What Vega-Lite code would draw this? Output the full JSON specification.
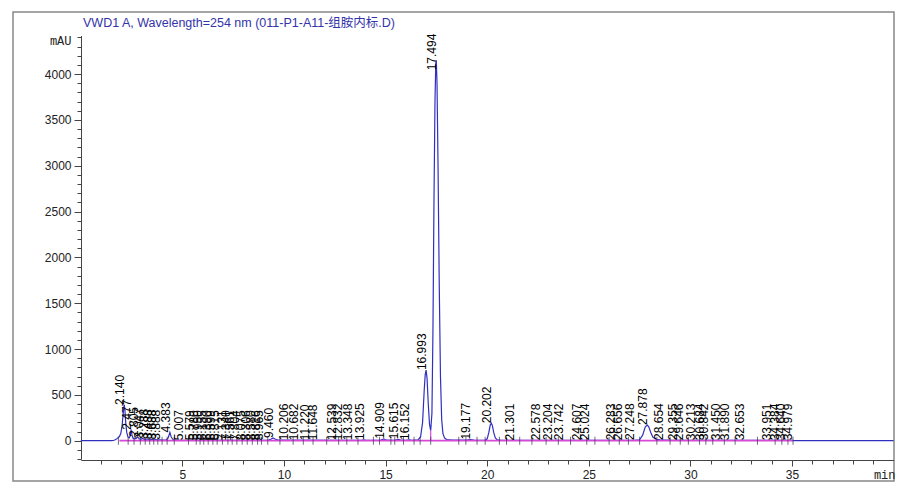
{
  "$schema": "https://vega.github.io/schema/vega-lite/v6.json",
  "autosize": {"type": "none"},
  "padding": {"left": 13, "top": 12, "right": 6, "bottom": 15},
  "width": 881,
  "height": 469,
  "background": "white",
  "view": {"stroke": "#888888", "strokeWidth": 1.5},
  "title": {
    "text": "VWD1 A, Wavelength=254 nm (011-P1-A11-组胺内标.D)",
    "anchor": "start",
    "frame": "group",
    "dx": 70,
    "dy": 21,
    "font": "Liberation Sans, Noto Sans CJK SC",
    "fontSize": 12.5,
    "fontWeight": "normal",
    "color": "#3333aa"
  },
  "resolve": {"axis": {"x": "independent", "y": "independent"}},
  "datasets": {
    "trace": [
      {"t":0,"v":0},{"t":1.5,"v":0},{"t":1.6,"v":2},{"t":1.7,"v":10},{"t":1.8,"v":25},{"t":1.9,"v":45},{"t":1.97,"v":80},{"t":2.03,"v":160},{"t":2.08,"v":280},{"t":2.12,"v":370},{"t":2.14,"v":390},{"t":2.17,"v":340},{"t":2.21,"v":200},{"t":2.26,"v":90},{"t":2.32,"v":40},{"t":2.38,"v":30},{"t":2.43,"v":50},{"t":2.477,"v":120},{"t":2.52,"v":60},{"t":2.57,"v":25},{"t":2.65,"v":20},{"t":2.72,"v":25},{"t":2.805,"v":40},{"t":2.87,"v":20},{"t":2.95,"v":15},{"t":3.047,"v":25},{"t":3.15,"v":12},{"t":3.288,"v":20},{"t":3.38,"v":10},{"t":3.488,"v":15},{"t":3.58,"v":8},{"t":3.688,"v":12},{"t":3.78,"v":6},{"t":3.888,"v":10},{"t":4.0,"v":5},{"t":4.2,"v":5},{"t":4.3,"v":30},{"t":4.383,"v":90},{"t":4.45,"v":40},{"t":4.55,"v":10},{"t":4.7,"v":4},{"t":9.2,"v":3},{"t":9.35,"v":15},{"t":9.46,"v":30},{"t":9.58,"v":15},{"t":9.75,"v":5},{"t":13.8,"v":3},{"t":13.925,"v":8},{"t":14.05,"v":3},{"t":14.75,"v":4},{"t":14.909,"v":20},{"t":15.05,"v":5},{"t":15.45,"v":4},{"t":15.615,"v":15},{"t":15.78,"v":5},{"t":16.0,"v":4},{"t":16.152,"v":8},{"t":16.3,"v":4},{"t":16.6,"v":10},{"t":16.72,"v":40},{"t":16.82,"v":200},{"t":16.9,"v":550},{"t":16.95,"v":720},{"t":16.993,"v":770},{"t":17.04,"v":680},{"t":17.1,"v":400},{"t":17.16,"v":180},{"t":17.22,"v":110},{"t":17.28,"v":300},{"t":17.33,"v":1200},{"t":17.38,"v":2600},{"t":17.43,"v":3700},{"t":17.47,"v":4120},{"t":17.494,"v":4150},{"t":17.53,"v":3900},{"t":17.58,"v":3000},{"t":17.64,"v":1700},{"t":17.7,"v":700},{"t":17.76,"v":230},{"t":17.82,"v":80},{"t":17.9,"v":30},{"t":18.0,"v":12},{"t":18.3,"v":6},{"t":19.0,"v":5},{"t":19.177,"v":12},{"t":19.35,"v":5},{"t":19.9,"v":4},{"t":20.0,"v":20},{"t":20.08,"v":90},{"t":20.15,"v":170},{"t":20.202,"v":190},{"t":20.25,"v":170},{"t":20.32,"v":90},{"t":20.4,"v":30},{"t":20.5,"v":8},{"t":20.7,"v":4},{"t":27.3,"v":5},{"t":27.5,"v":10},{"t":27.65,"v":60},{"t":27.78,"v":150},{"t":27.878,"v":170},{"t":27.95,"v":150},{"t":28.05,"v":90},{"t":28.15,"v":40},{"t":28.3,"v":15},{"t":28.5,"v":8},{"t":29.0,"v":5},{"t":35.0,"v":3},{"t":35.1,"v":0},{"t":40,"v":0}
    ],
    "base": [{"t":1.9,"v":0},{"t":35.05,"v":0}],
    "drop": [{"t":17.22,"v":0,"v2":110}],
    "bounds": [
      {"t":1.85},{"t":2.33},{"t":2.62},{"t":2.93},{"t":3.17},{"t":3.39},{"t":3.59},{"t":3.79},{"t":4.0},{"t":4.25},{"t":4.6},{"t":5.3},{"t":5.68},{"t":5.87},{"t":6.05},{"t":6.27},{"t":6.5},{"t":6.71},{"t":6.97},{"t":7.24},{"t":7.45},{"t":7.68},{"t":7.94},{"t":8.19},{"t":8.44},{"t":8.7},{"t":8.89},{"t":9.2},{"t":9.8},{"t":10.45},{"t":10.95},{"t":11.43},{"t":12.1},{"t":12.69},{"t":13.09},{"t":13.64},{"t":14.4},{"t":14.7},{"t":15.26},{"t":15.45},{"t":15.88},{"t":16.4},{"t":16.7},{"t":17.22},{"t":18.6},{"t":18.95},{"t":19.5},{"t":19.9},{"t":20.6},{"t":20.95},{"t":21.6},{"t":22.2},{"t":22.9},{"t":23.5},{"t":24.1},{"t":24.9},{"t":25.3},{"t":26.0},{"t":26.5},{"t":26.95},{"t":27.5},{"t":28.35},{"t":29.0},{"t":29.5},{"t":29.9},{"t":30.45},{"t":30.76},{"t":31.1},{"t":31.67},{"t":32.2},{"t":33.3},{"t":34.17},{"t":34.5},{"t":34.8},{"t":35.05}
    ],
    "peaks": [
      {"t":2.140,"v":390,"rt":"2.140"},{"t":2.477,"v":120,"rt":"2.477"},{"t":2.805,"v":40,"rt":"2.805"},{"t":3.047,"v":25,"rt":"3.047"},{"t":3.288,"v":20,"rt":"3.288"},{"t":3.488,"v":15,"rt":"3.488"},{"t":3.688,"v":12,"rt":"3.688"},{"t":3.888,"v":10,"rt":"3.888"},{"t":4.383,"v":90,"rt":"4.383"},{"t":5.007,"v":5,"rt":"5.007"},{"t":5.579,"v":4,"rt":"5.579"},{"t":5.780,"v":4,"rt":"5.780"},{"t":5.950,"v":4,"rt":"5.950"},{"t":6.155,"v":4,"rt":"6.155"},{"t":6.390,"v":4,"rt":"6.390"},{"t":6.599,"v":4,"rt":"6.599"},{"t":6.815,"v":4,"rt":"6.815"},{"t":7.131,"v":4,"rt":"7.131"},{"t":7.340,"v":4,"rt":"7.340"},{"t":7.561,"v":4,"rt":"7.561"},{"t":7.804,"v":4,"rt":"7.804"},{"t":8.075,"v":4,"rt":"8.075"},{"t":8.306,"v":4,"rt":"8.306"},{"t":8.580,"v":4,"rt":"8.580"},{"t":8.816,"v":4,"rt":"8.816"},{"t":8.965,"v":4,"rt":"8.965"},{"t":9.460,"v":30,"rt":"9.460"},{"t":10.206,"v":4,"rt":"10.206"},{"t":10.682,"v":4,"rt":"10.682"},{"t":11.220,"v":4,"rt":"11.220"},{"t":11.648,"v":4,"rt":"11.648"},{"t":12.539,"v":4,"rt":"12.539"},{"t":12.832,"v":4,"rt":"12.832"},{"t":13.348,"v":4,"rt":"13.348"},{"t":13.925,"v":8,"rt":"13.925"},{"t":14.909,"v":20,"rt":"14.909"},{"t":15.615,"v":15,"rt":"15.615"},{"t":16.152,"v":8,"rt":"16.152"},{"t":16.993,"v":770,"rt":"16.993"},{"t":17.494,"v":4040,"rt":"17.494"},{"t":19.177,"v":12,"rt":"19.177"},{"t":20.202,"v":190,"rt":"20.202"},{"t":21.301,"v":3,"rt":"21.301"},{"t":22.578,"v":4,"rt":"22.578"},{"t":23.204,"v":4,"rt":"23.204"},{"t":23.742,"v":4,"rt":"23.742"},{"t":24.607,"v":4,"rt":"24.607"},{"t":25.024,"v":4,"rt":"25.024"},{"t":26.283,"v":4,"rt":"26.283"},{"t":26.656,"v":4,"rt":"26.656"},{"t":27.248,"v":6,"rt":"27.248"},{"t":27.878,"v":170,"rt":"27.878"},{"t":28.654,"v":8,"rt":"28.654"},{"t":29.355,"v":5,"rt":"29.355"},{"t":29.646,"v":5,"rt":"29.646"},{"t":30.213,"v":5,"rt":"30.213"},{"t":30.684,"v":5,"rt":"30.684"},{"t":30.842,"v":5,"rt":"30.842"},{"t":31.450,"v":5,"rt":"31.450"},{"t":31.890,"v":5,"rt":"31.890"},{"t":32.653,"v":4,"rt":"32.653"},{"t":33.951,"v":4,"rt":"33.951"},{"t":34.384,"v":4,"rt":"34.384"},{"t":34.640,"v":4,"rt":"34.640"},{"t":34.979,"v":4,"rt":"34.979"}
    ]
  },
  "layer": [
    {
      "data": {"name": "trace"},
      "mark": {"type": "line", "color": "#3030c0", "strokeWidth": 1.2, "interpolate": "linear"},
      "encoding": {
        "x": {
          "field": "t", "type": "quantitative",
          "scale": {"domain": [0, 40], "range": [67.8, 880.6], "zero": false, "nice": false},
          "axis": {
            "orient": "bottom",
            "title": "min", "titleAngle": 0, "titleAlign": "right", "titleBaseline": "middle",
            "titleX": 882, "titleY": 14, "titleFont": "Liberation Mono", "titleFontSize": 12, "titleFontWeight": "normal", "titleColor": "#222",
            "offset": -21, "grid": false,
            "values": [5,10,15,20,25,30,35],
            "format": "d", "tickSize": 6,
            "labelPadding": 3, "labelFont": "Liberation Sans", "labelFontSize": 12, "labelColor": "#222",
            "domainColor": "#444", "tickColor": "#444", "labelFlush": false, "labelOverlap": false
          }
        },
        "y": {
          "field": "v", "type": "quantitative",
          "scale": {"domain": [-200, 4420], "range": [447.0, 23.5], "zero": false, "nice": false},
          "axis": {
            "orient": "left",
            "title": "mAU", "titleAngle": 0, "titleAlign": "right", "titleBaseline": "middle",
            "titleX": -10, "titleY": 28, "titleFont": "Liberation Mono", "titleFontSize": 12, "titleFontWeight": "normal", "titleColor": "#222",
            "offset": -68, "grid": false,
            "values": [0,500,1000,1500,2000,2500,3000,3500,4000],
            "format": "d", "tickSize": 7,
            "labelPadding": 3, "labelFont": "Liberation Sans", "labelFontSize": 12, "labelColor": "#222",
            "domainColor": "#444", "tickColor": "#444", "labelFlush": false, "labelOverlap": false
          }
        }
      }
    },
    {
      "data": {"name": "base"},
      "mark": {"type": "line", "color": "#d848d8", "strokeWidth": 1.8},
      "encoding": {
        "x": {
          "field": "t", "type": "quantitative",
          "scale": {"domain": [0, 40], "range": [67.8, 880.6], "zero": false, "nice": false},
          "axis": {
            "orient": "bottom", "title": null, "offset": -21, "grid": false, "domain": false, "labels": false,
            "values": [1,2,3,4,6,7,8,9,11,12,13,14,16,17,18,19,21,22,23,24,26,27,28,29,31,32,33,34,36,37,38,39],
            "tickSize": 4, "tickColor": "#444"
          }
        },
        "y": {
          "field": "v", "type": "quantitative",
          "scale": {"domain": [-200, 4420], "range": [447.0, 23.5], "zero": false, "nice": false},
          "axis": {
            "orient": "left", "title": null, "offset": -68, "grid": false, "domain": false, "labels": false,
            "values": [-200,-100,100,200,300,400,600,700,800,900,1100,1200,1300,1400,1600,1700,1800,1900,2100,2200,2300,2400,2600,2700,2800,2900,3100,3200,3300,3400,3600,3700,3800,3900,4100,4200,4300,4400],
            "tickSize": 4, "tickColor": "#444"
          }
        }
      }
    },
    {
      "data": {"name": "drop"},
      "mark": {"type": "rule", "color": "#d848d8", "strokeWidth": 1.2},
      "encoding": {
        "x": {"field": "t", "type": "quantitative", "axis": null, "scale": {"domain": [0, 40], "range": [67.8, 880.6], "zero": false, "nice": false}},
        "y": {"field": "v", "type": "quantitative", "axis": null, "scale": {"domain": [-200, 4420], "range": [447.0, 23.5], "zero": false, "nice": false}},
        "y2": {"field": "v2"}
      }
    },
    {
      "data": {"name": "bounds"},
      "mark": {"type": "tick", "orient": "vertical", "color": "#303050", "size": 8, "thickness": 1},
      "encoding": {
        "x": {"field": "t", "type": "quantitative", "axis": null, "scale": {"domain": [0, 40], "range": [67.8, 880.6], "zero": false, "nice": false}},
        "y": {"datum": 0, "type": "quantitative", "axis": null, "scale": {"domain": [-200, 4420], "range": [447.0, 23.5], "zero": false, "nice": false}}
      }
    },
    {
      "data": {"name": "peaks"},
      "mark": {"type": "text", "angle": 270, "align": "left", "baseline": "middle", "dy": -4, "font": "Liberation Sans", "fontSize": 12, "color": "#000000"},
      "encoding": {
        "x": {"field": "t", "type": "quantitative", "axis": null, "scale": {"domain": [0, 40], "range": [67.8, 880.6], "zero": false, "nice": false}},
        "y": {"field": "v", "type": "quantitative", "axis": null, "scale": {"domain": [-200, 4420], "range": [447.0, 23.5], "zero": false, "nice": false}},
        "text": {"field": "rt"}
      }
    }
  ]
}
